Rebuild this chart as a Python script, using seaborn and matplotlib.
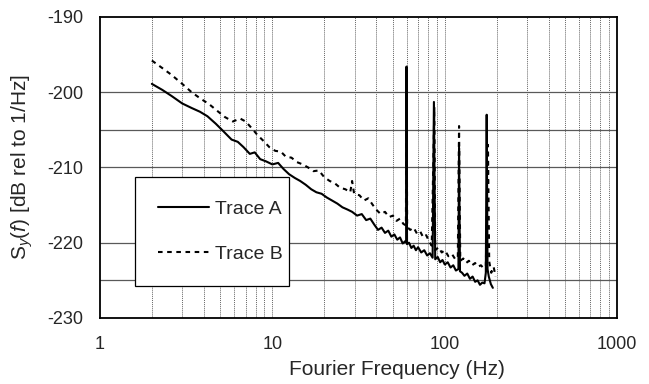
import numpy as np
import pandas as pd
import matplotlib
matplotlib.use('Agg')
import matplotlib.pyplot as plt
from matplotlib.ticker import FixedLocator, NullFormatter, FixedFormatter
import seaborn as sns

#### DATA

freq_A = [2.0, 2.3, 2.6, 3.0, 3.4, 3.8, 4.2, 4.7, 5.2, 5.8, 6.3, 6.8, 7.4, 7.9, 8.5, 9.2,
          10, 10.8, 11.6, 12.5, 13.5, 14.5, 15.6, 16.8, 18, 19.3, 20.7, 22.2, 23.8, 25.5,
          27.3, 29, 31, 33, 35, 37, 39, 41, 43, 45, 47, 49, 51, 53, 55, 57, 59, 59.7, 60,
          60.4, 62, 64, 66, 68, 70, 73, 76, 79, 82, 85, 86.5, 88, 91, 94, 97, 100, 104,
          108, 112, 116, 120, 121, 122.5, 126, 130, 135, 140, 145, 150, 155, 160, 165,
          170, 173, 175, 177, 180, 185, 190]
sy_A = [-198.9, -199.7, -200.5, -201.5, -202.1, -202.6, -203.2, -204.2, -205.2, -206.3,
        -206.6, -207.3, -208.2, -208.0, -208.9, -209.2, -209.6, -209.4, -210.2, -210.9,
        -211.4, -211.8, -212.3, -212.9, -213.3, -213.5, -214.0, -214.4, -214.8, -215.3,
        -215.6, -215.9, -216.4, -216.2, -217.0, -216.8, -217.6, -218.3, -218.0, -218.7,
        -218.4, -219.2, -218.9, -219.6, -219.3, -220.1, -219.8, -219.9, -196.6, -220.2,
        -220.0, -220.7, -220.4, -221.0, -220.6, -221.3, -221.0, -221.7, -221.4, -222.0,
        -201.3, -222.2, -221.9, -222.6, -222.3, -222.9, -222.6, -223.3, -223.0, -223.7,
        -223.5, -207.4, -223.8, -224.0, -224.4, -224.1, -224.8, -224.5, -225.2, -225.0,
        -225.6, -225.3, -225.4, -224.0, -203.0, -223.5, -224.5, -225.5, -226.0]

freq_B = [2.0, 2.3, 2.6, 3.0, 3.4, 3.8, 4.3, 4.8, 5.3, 5.9, 6.5, 7.0, 7.6, 8.2, 8.9, 9.6,
          10.4, 11.2, 12.0, 12.9, 13.9, 15.0, 16.1, 17.3, 18.6, 20, 21.5, 23, 24.7, 26.5,
          28.3, 29, 29.8, 32, 34, 36, 38, 40, 42.5, 45, 47.5, 50, 52.5, 55, 57.5, 59.5,
          60, 60.5, 63, 66, 69, 72, 75, 78, 81, 84, 87, 88, 92, 96, 100, 105, 110, 115,
          119, 121, 123, 128, 133, 138, 144, 150, 156, 162, 168, 173, 178, 181, 186, 192,
          197]
sy_B = [-195.8, -196.8, -197.7, -198.9, -200.0, -200.8, -201.6, -202.5, -203.3, -203.9,
        -203.5, -203.9, -204.8, -205.7, -206.5, -207.3, -207.8, -207.9, -208.6, -208.7,
        -209.3, -209.6, -210.0, -210.5, -210.4, -211.3, -211.8, -212.1, -212.7, -212.9,
        -213.3, -211.8, -213.5, -213.7, -214.4, -214.1, -214.9, -215.6, -216.2, -215.9,
        -216.6, -216.4, -217.1, -216.8, -217.5, -217.7, -197.5, -217.9, -218.3, -218.0,
        -218.8, -218.5, -219.3, -219.0, -219.8, -220.4, -202.0, -221.0, -220.6, -221.3,
        -221.0, -221.8, -221.5, -222.2, -222.0, -204.5, -222.4, -222.1, -222.7, -222.4,
        -223.0, -222.7, -223.2, -223.0, -223.4, -223.1, -207.0, -222.5, -224.0, -223.2,
        -224.5]

x_ticks = [1, 10, 100, 1000]
y_ticks = [-230, -220, -210, -200, -190]
h_grid = [-200, -205, -210, -220, -225]

df = pd.concat([pd.DataFrame({'f': freq_A, 'sy': sy_A, 'trace': 'Trace A'}),
                pd.DataFrame({'f': freq_B, 'sy': sy_B, 'trace': 'Trace B'})])

#### PLOT

sns.set_style("white")
plt.rcParams['font.family'] = ['Liberation Sans', 'DejaVu Sans']
plt.rcParams['mathtext.fontset'] = 'custom'
plt.rcParams['mathtext.rm'] = 'Liberation Sans'
plt.rcParams['mathtext.it'] = 'Liberation Sans:italic'
plt.rcParams['axes.unicode_minus'] = False

fs_tick = 13
fs_label = 15
fs_leg = 14

fg = plt.figure(figsize=(6.49, 3.84), dpi=100)
ax = fg.add_axes([0.154, 0.172, 0.797, 0.784])

ax.set_xscale('log')

minor = [m * 10**d for d in range(0, 3) for m in range(2, 10)]
for xv in minor + x_ticks[1:3]:
    ax.axvline(x=xv, color='0.4', linewidth=0.7, linestyle=(0, (1, 1)), zorder=0)
for yv in h_grid:
    ax.axhline(y=yv, color='0.35', linewidth=0.9, linestyle='-', zorder=0)

sns.lineplot(data=df, x='f', y='sy', hue='trace', style='trace', ax=ax,
             palette={'Trace A': 'black', 'Trace B': 'black'},
             dashes={'Trace A': '', 'Trace B': (2.2, 2.2)},
             estimator=None, sort=False, linewidth=1.5)

ax.set_xlim(1, 1000)
ax.set_ylim(-230, -190)
ax.xaxis.set_major_locator(FixedLocator(x_ticks))
ax.xaxis.set_major_formatter(FixedFormatter([str(v) for v in x_ticks]))
ax.xaxis.set_minor_formatter(NullFormatter())
ax.tick_params(axis='x', which='minor', length=0)
ax.set_yticks(y_ticks)

ax.tick_params(axis='both', which='major', direction='out', length=5, width=1.2,
               color='black', labelsize=fs_tick)
ax.tick_params(axis='x', which='major', pad=8)
ax.tick_params(axis='y', which='major', pad=7)

for sp in ax.spines.values():
    sp.set_color('black')
    sp.set_linewidth(1.3)

ax.set_xlabel('Fourier Frequency (Hz)', fontsize=fs_label)
ax.xaxis.set_label_coords(0.575, -0.14)
ax.set_ylabel(r'S$_{y}$($f$) [dB rel to 1/Hz]', fontsize=fs_label, labelpad=9)

leg = ax.legend(loc='lower left', bbox_to_anchor=(0.068, 0.106, 0.298, 0.3),
                mode='expand', fontsize=fs_leg,
                frameon=True, fancybox=False, edgecolor='black', framealpha=1,
                handlelength=2.6, handletextpad=0.3, labelspacing=1.4,
                borderpad=1.2, borderaxespad=0)
leg.get_frame().set_linewidth(0.9)

plt.savefig('out.png', dpi=100)
